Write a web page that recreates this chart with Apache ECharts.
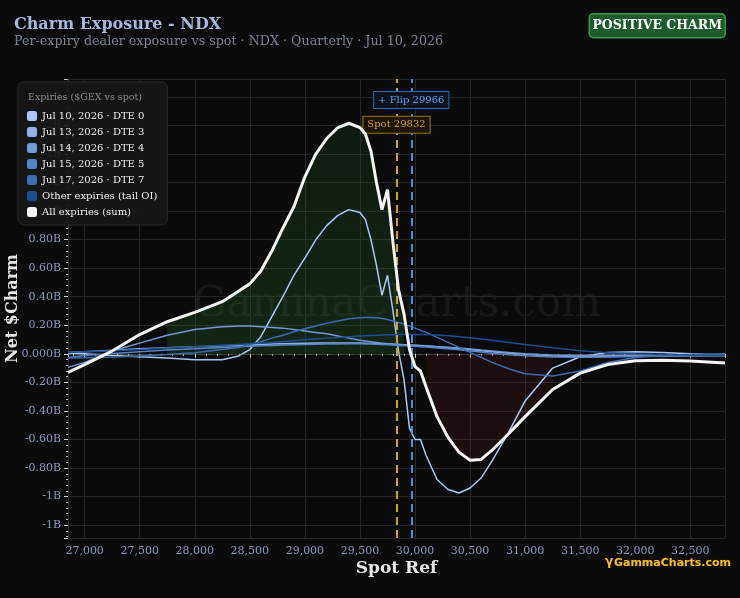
<!DOCTYPE html>
<html>
<head>
<meta charset="utf-8">
<title>Charm Exposure - NDX</title>
<script src="https://cdn.jsdelivr.net/npm/echarts@6/dist/echarts.min.js"></script>
<style>
    html, body { margin: 0; padding: 0; background: #0b0b0b; }
    #charmChart { width: 740px; height: 598px; }
</style>
</head>
<body>
<div id="charmChart"></div>
<script>
// Chart data (values in billions of $Charm)
// ------------------------------

var spots = [
    26849, 27000, 27250, 27500, 27750, 28000, 28250, 28400, 28500, 28600,
    28700, 28800, 28900, 29000, 29100, 29200, 29300, 29400, 29500, 29550,
    29600, 29650, 29700, 29750, 29800, 29850, 29900, 29950, 30000, 30050,
    30100, 30200, 30300, 30400, 30500, 30600, 30700, 30850, 31000, 31250,
    31500, 31750, 32000, 32250, 32500, 32815
];

var dte0 = [
    0.005, 0.0, -0.012, -0.02, -0.03, -0.042, -0.042, -0.015, 0.03, 0.12,
    0.26, 0.40, 0.55, 0.67, 0.80, 0.90, 0.97, 1.01, 0.99, 0.94,
    0.80, 0.62, 0.41, 0.55, 0.30, 0.02, -0.18, -0.52, -0.60, -0.60,
    -0.71, -0.88, -0.95, -0.975, -0.94, -0.87, -0.75, -0.55, -0.33, -0.10,
    -0.02, 0.01, 0.015, 0.01, 0.0, -0.01
];

var dte3 = [
    0.01, 0.015, 0.025, 0.035, 0.043, 0.05, 0.056, 0.06, 0.062, 0.065,
    0.068, 0.07, 0.072, 0.074, 0.075, 0.076, 0.076, 0.076, 0.075, 0.074,
    0.073, 0.072, 0.07, 0.069, 0.067, 0.066, 0.064, 0.062, 0.06, 0.058,
    0.056, 0.05, 0.044, 0.037, 0.03, 0.022, 0.014, 0.004, -0.005, -0.015,
    -0.018, -0.018, -0.016, -0.014, -0.012, -0.01
];

var dte4 = [
    -0.095, -0.06, 0.02, 0.075, 0.13, 0.17, 0.19, 0.195, 0.195, 0.19,
    0.185, 0.18, 0.17, 0.16, 0.15, 0.14, 0.125, 0.11, 0.095, 0.09,
    0.085, 0.08, 0.075, 0.07, 0.068, 0.065, 0.062, 0.06, 0.058, 0.056,
    0.054, 0.05, 0.045, 0.04, 0.033, 0.026, 0.02, 0.01, 0.0, -0.008,
    -0.012, -0.012, -0.01, -0.01, -0.01, -0.01
];

var dte5 = [
    -0.025, -0.012, 0.002, 0.015, 0.026, 0.035, 0.045, 0.05, 0.053, 0.056,
    0.059, 0.061, 0.063, 0.065, 0.067, 0.068, 0.069, 0.07, 0.07, 0.069,
    0.068, 0.067, 0.065, 0.063, 0.061, 0.059, 0.057, 0.055, 0.053, 0.05,
    0.047, 0.041, 0.035, 0.028, 0.02, 0.012, 0.004, -0.006, -0.014, -0.022,
    -0.024, -0.022, -0.019, -0.017, -0.016, -0.016
];

var dte7 = [
    -0.03, -0.028, -0.022, -0.015, -0.005, 0.008, 0.03, 0.045, 0.065, 0.085,
    0.11, 0.13, 0.155, 0.175, 0.195, 0.215, 0.23, 0.245, 0.253, 0.255,
    0.255, 0.252, 0.248, 0.24, 0.23, 0.22, 0.21, 0.195, 0.18, 0.165,
    0.15, 0.115, 0.08, 0.045, 0.01, -0.025, -0.06, -0.105, -0.14, -0.155,
    -0.12, -0.06, -0.025, -0.01, -0.005, 0.0
];

var otherTail = [
    0.01, 0.015, 0.022, 0.03, 0.04, 0.05, 0.06, 0.066, 0.07, 0.075,
    0.08, 0.086, 0.092, 0.098, 0.104, 0.11, 0.115, 0.12, 0.125, 0.127,
    0.129, 0.13, 0.132, 0.133, 0.134, 0.135, 0.135, 0.136, 0.136, 0.136,
    0.135, 0.132, 0.127, 0.12, 0.112, 0.104, 0.095, 0.08, 0.065, 0.042,
    0.022, 0.008, 0.0, -0.005, -0.008, -0.01
];

var allSum = [
    -0.13, -0.075, 0.02, 0.135, 0.225, 0.29, 0.365, 0.44, 0.49, 0.58,
    0.72, 0.88, 1.03, 1.24, 1.40, 1.51, 1.585, 1.615, 1.585, 1.54,
    1.42, 1.20, 1.01, 1.15, 0.78, 0.45, 0.28, 0.03, -0.09, -0.12,
    -0.23, -0.44, -0.585, -0.69, -0.745, -0.74, -0.675, -0.56, -0.44, -0.25,
    -0.135, -0.075, -0.048, -0.045, -0.05, -0.065
];

var expiryNames = [
    'Jul 10, 2026 · DTE 0',
    'Jul 13, 2026 · DTE 3',
    'Jul 14, 2026 · DTE 4',
    'Jul 15, 2026 · DTE 5',
    'Jul 17, 2026 · DTE 7',
    'Other expiries (tail OI)'
];
var sumName = 'All expiries (sum)';

var spotPrice = 29832;
var flipPrice = 29966;
var fillThreshold = 0.15;


// Setup module
// ------------------------------

var CharmExposure = function() {

    var palette = ['#a9c8f6', '#8fb3ea', '#7299d7', '#5883c6', '#3d6cb2', '#1f4d90'];
    var serif = '"DejaVu Serif", serif';

    var toPairs = function(values) {
        return spots.map(function(s, i) {
            return [s, values[i] === null ? null : values[i] * 1e9];
        });
    };

    var _buildChart = function() {
        var el = document.getElementById('charmChart');
        var chart = echarts.init(el, null, { renderer: 'canvas' });

        var expiryValues = [dte0, dte3, dte4, dte5, dte7, otherTail];

        // lines per expiry
        var series = expiryValues.map(function(values, i) {
            return {
                name: expiryNames[i],
                type: 'line',
                data: toPairs(values),
                symbol: 'none',
                z: 3,
                lineStyle: { width: 1.5, color: palette[i] },
                itemStyle: { color: palette[i] }
            };
        });

        // shaded regions under the sum where it is clearly positive / negative
        var posFill = allSum.map(function(v) { return v >= fillThreshold ? v : null; });
        var negFill = allSum.map(function(v) { return v <= -fillThreshold ? v : null; });

        series.push({
            name: 'posFill',
            type: 'line',
            data: toPairs(posFill),
            symbol: 'none',
            connectNulls: false,
            silent: true,
            z: 1,
            lineStyle: { width: 0 },
            areaStyle: {
                origin: 0,
                color: new echarts.graphic.LinearGradient(0, 0, 0, 1, [
                    { offset: 0, color: 'rgba(40,120,50,0.20)' },
                    { offset: 1, color: 'rgba(40,120,50,0.36)' }
                ])
            }
        });
        series.push({
            name: 'negFill',
            type: 'line',
            data: toPairs(negFill),
            symbol: 'none',
            connectNulls: false,
            silent: true,
            z: 1,
            lineStyle: { width: 0 },
            areaStyle: {
                origin: 0,
                color: 'rgba(165,45,45,0.17)'
            }
        });

        // sum line with spot / flip markers
        series.push({
            name: sumName,
            type: 'line',
            data: toPairs(allSum),
            symbol: 'none',
            z: 5,
            lineStyle: { width: 3, color: '#f4f4f4' },
            itemStyle: { color: '#f4f4f4' },
            markLine: {
                silent: true,
                symbol: 'none',
                label: { show: false },
                data: [
                    { yAxis: 0, lineStyle: { color: 'rgba(90,110,90,0.45)', type: [5, 5], width: 1 } },
                    { xAxis: spotPrice, lineStyle: { color: '#d6a21e', type: [8, 5], width: 2 } },
                    { xAxis: flipPrice, lineStyle: { color: '#4a8edb', type: [8, 5], width: 2 } }
                ]
            },
            markPoint: {
                silent: true,
                symbol: 'rect',
                symbolSize: 1,
                itemStyle: { color: 'rgba(0,0,0,0)' },
                data: [
                    {
                        coord: [flipPrice, 1.778e9],
                        label: {
                            show: true,
                            position: 'inside',
                            formatter: '+ Flip ' + flipPrice,
                            color: '#5fa4f2',
                            fontFamily: serif,
                            fontSize: 10,
                            backgroundColor: 'rgba(8,18,32,0.95)',
                            borderColor: '#2f6aa8',
                            borderWidth: 1,
                            padding: [3, 4]
                        }
                    },
                    {
                        coord: [spotPrice, 1.604e9],
                        label: {
                            show: true,
                            position: 'inside',
                            formatter: 'Spot ' + spotPrice,
                            color: '#d6a22a',
                            fontFamily: serif,
                            fontSize: 10,
                            backgroundColor: 'rgba(28,20,4,0.95)',
                            borderColor: '#94700f',
                            borderWidth: 1,
                            padding: [3, 4]
                        }
                    }
                ]
            }
        });

        var option = {
            backgroundColor: '#0b0b0b',
            animation: false,
            textStyle: { fontFamily: serif },

            title: {
                text: 'Charm Exposure - NDX',
                subtext: 'Per-expiry dealer exposure vs spot · NDX · Quarterly · Jul 10, 2026',
                left: 9,
                top: 12,
                itemGap: 2,
                textStyle: { color: '#a6b6dc', fontSize: 16, fontWeight: 'bold', fontFamily: serif },
                subtextStyle: { color: '#7b8494', fontSize: 12.7, fontFamily: serif }
            },

            legend: {
                orient: 'vertical',
                left: 18,
                top: 82,
                padding: [29, 10, 8, 9],
                itemGap: 6,
                itemWidth: 10,
                itemHeight: 10,
                icon: 'roundRect',
                backgroundColor: 'rgba(22,22,22,0.9)',
                borderColor: '#2a2a2a',
                borderWidth: 1,
                borderRadius: 6,
                data: expiryNames.concat([sumName]),
                textStyle: { color: '#f0f0f0', fontSize: 10, fontWeight: 'normal', fontFamily: serif },
                z: 8
            },

            grid: { left: 68, right: 15, top: 79, bottom: 60, containLabel: false, outerBoundsMode: 'none' },

            xAxis: {
                type: 'value',
                min: 26849,
                max: 32815,
                splitNumber: 12,
                name: 'Spot Ref',
                nameLocation: 'middle',
                nameGap: 22,
                nameMoveOverlap: false,
                nameTextStyle: { color: '#e6e6e6', fontSize: 17, fontWeight: 'bold', fontFamily: serif },
                axisLine: { show: true, lineStyle: { color: '#3a3a3a' } },
                axisTick: { show: true, length: 4, lineStyle: { color: '#cfcfcf' } },
                minorTick: { show: true, splitNumber: 5, length: 2, lineStyle: { color: '#bbbbbb' } },
                axisLabel: {
                    color: '#8a98bc',
                    fontSize: 11,
                    fontFamily: serif,
                    showMinLabel: false,
                    showMaxLabel: false,
                    formatter: function(v) { return v.toLocaleString('en-US'); }
                },
                splitLine: { show: true, lineStyle: { color: '#252525' } }
            },

            yAxis: {
                type: 'value',
                min: -1.29e9,
                max: 1.925e9,
                splitNumber: 16,
                name: 'Net $Charm',
                nameLocation: 'middle',
                nameGap: 47,
                nameMoveOverlap: false,
                nameTextStyle: { color: '#e6e6e6', fontSize: 16, fontWeight: 'bold', fontFamily: serif },
                axisLine: { show: true, lineStyle: { color: '#2e2e2e' } },
                axisTick: { show: true, length: 4, lineStyle: { color: '#d6d6d6' } },
                minorTick: { show: true, splitNumber: 5, length: 2, lineStyle: { color: '#bbbbbb' } },
                axisLabel: {
                    color: '#8a98bc',
                    fontSize: 11,
                    fontFamily: serif,
                    margin: 7,
                    showMinLabel: false,
                    showMaxLabel: false,
                    formatter: function(v) {
                        var b = v / 1e9;
                        if (Math.abs(b) < 1e-9) return '0.000B';
                        if (Math.abs(b) >= 1) return b.toFixed(0) + 'B';
                        return b.toFixed(2) + 'B';
                    }
                },
                splitLine: { show: true, lineStyle: { color: '#252525' } }
            },

            graphic: [
                // watermark
                {
                    type: 'text',
                    x: 397,
                    y: 305,
                    z: 0,
                    silent: true,
                    style: {
                        text: 'GammaCharts.com',
                        fill: 'rgba(255,255,255,0.055)',
                        font: '42px "DejaVu Serif", serif',
                        textAlign: 'center',
                        textVerticalAlign: 'middle'
                    }
                },
                // legend heading
                {
                    type: 'text',
                    left: 28,
                    top: 93,
                    z: 20,
                    silent: true,
                    style: {
                        text: 'Expiries ($GEX vs spot)',
                        fill: '#8a8a8a',
                        font: '9.5px "DejaVu Serif", serif'
                    }
                },
                // badge
                {
                    type: 'group',
                    right: 14,
                    top: 13,
                    z: 20,
                    children: [
                        {
                            type: 'rect',
                            shape: { x: 0, y: 0, width: 136, height: 24, r: 4 },
                            style: { fill: '#1f5a2a', stroke: '#3d9a4b', lineWidth: 1.5 }
                        },
                        {
                            type: 'text',
                            x: 68,
                            y: 12,
                            style: {
                                text: 'POSITIVE CHARM',
                                fill: '#ffffff',
                                font: 'bold 12.5px "DejaVu Serif", serif',
                                textAlign: 'center',
                                textVerticalAlign: 'middle'
                            }
                        }
                    ]
                },
                // logo
                {
                    type: 'group',
                    right: 8,
                    top: 556,
                    z: 20,
                    children: [
                        {
                            type: 'text',
                            x: 0,
                            y: 0,
                            style: {
                                text: '\u03b3',
                                fill: '#f2c12e',
                                font: 'bold 12px "DejaVu Sans", sans-serif'
                            }
                        },
                        {
                            type: 'text',
                            x: 9,
                            y: 2,
                            style: {
                                text: 'GammaCharts.com',
                                fill: '#f2c12e',
                                stroke: '#1a1200',
                                lineWidth: 2,
                                font: 'bold 11px "DejaVu Sans", sans-serif'
                            }
                        }
                    ]
                }
            ],

            series: series
        };

        chart.setOption(option);
    };

    return {
        init: function() {
            _buildChart();
        }
    };
}();


// Initialize module
// ------------------------------

document.addEventListener('DOMContentLoaded', function() {
    CharmExposure.init();
});
</script>
</body>
</html>
